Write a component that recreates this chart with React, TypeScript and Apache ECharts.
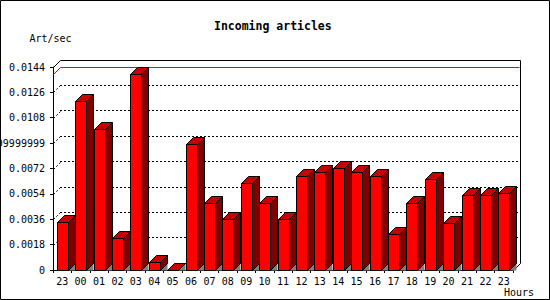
import React, { useEffect, useRef } from "react";
import * as echarts from "echarts";

const hours = ["23","00","01","02","03","04","05","06","07","08","09","10","11","12","13","14","15","16","17","18","19","20","21","22","23"];
const artPerSec = [0.00338,0.0120,0.00998,0.00225,0.01388,0.00057,0,0.00892,0.00473,0.0036,0.00615,0.00473,0.0036,0.00665,0.00693,0.00721,0.00693,0.00665,0.00255,0.00473,0.00646,0.00331,0.0053,0.0053,0.00544];
const yTickValues = [0,0.0018,0.0036,0.0054,0.0072,0.009,0.0108,0.0126,0.0144];
const yTickLabels = ["0","0.0018","0.0036","0.0054","0.0072","0.00899999999","0.0108","0.0126","0.0144"];
const yStep = 0.0018;
const yMax = 0.0144;

const FONT = "DejaVu Sans Mono";
const D = 7;

export default function App() {
  const ref = useRef<HTMLDivElement>(null);
  useEffect(() => {
    if (!ref.current) return;
    const chart = echarts.init(ref.current, null, { renderer: "svg" });
    const r = (v: number) => Math.round(v) + 0.5;
    const maxVal = Math.max(...artPerSec);
    const n = hours.length;

    const GL = 53, GT = 67, GW = 460, GH = 203;

    chart.setOption({
      animation: false,
      backgroundColor: "#fff",
      title: {
        text: "Incoming articles",
        left: 214,
        top: 20,
        padding: 0,
        textStyle: { fontFamily: FONT, fontSize: 11.5, fontWeight: "bold", color: "#000" },
      },
      grid: [
        { left: GL, top: GT, width: GW, height: GH, containLabel: false, outerBoundsMode: "none" },
        { left: GL + D, top: GT - D, width: GW, height: GH, containLabel: false, outerBoundsMode: "none" },
      ],
      xAxis: [
        {
          type: "category",
          gridIndex: 0,
          data: hours,
          boundaryGap: true,
          axisLine: { show: true, lineStyle: { color: "#000", width: 1 } },
          axisTick: { show: true, alignWithLabel: false, length: 3, inside: false, lineStyle: { color: "#000" }, interval: 0 },
          axisLabel: { interval: 0, margin: 6, fontFamily: FONT, fontSize: 10, color: "#000", hideOverlap: false },
          splitLine: { show: false },
        },
        { type: "category", gridIndex: 1, data: hours, show: false },
      ],
      yAxis: [
        {
          type: "value",
          gridIndex: 0,
          min: 0,
          max: yMax,
          interval: yStep,
          axisLine: { show: true, lineStyle: { color: "#000", width: 1 } },
          axisTick: { show: true, length: 3, inside: false, lineStyle: { color: "#000" } },
          axisLabel: {
            margin: 8,
            fontFamily: FONT,
            fontSize: 10,
            color: "#000",
            hideOverlap: false,
            formatter: (v: number) => yTickLabels[Math.round(v / yStep)] ?? String(v),
          },
          splitLine: { show: false },
        },
        {
          type: "value",
          gridIndex: 1,
          min: 0,
          max: yMax,
          interval: yStep,
          axisLine: { show: false },
          axisTick: { show: false },
          axisLabel: { show: false },
          splitLine: {
            show: true,
            showMinLine: false,
            showMaxLine: false,
            lineStyle: { color: "#000", width: 1, type: [2, 2] },
          },
        },
      ],
      graphic: [
        { type: "rect", shape: { x: 0.5, y: 0.5, width: 549, height: 299 }, style: { fill: "none", stroke: "#000", lineWidth: 1 }, z: 100 },
        { type: "line", shape: { x1: GL + 0.5, y1: GT + 0.5, x2: GL + D + 0.5, y2: GT - D + 0.5 }, style: { stroke: "#000", lineWidth: 1 } },
        { type: "line", shape: { x1: GL + D + 0.5, y1: GT - D + 0.5, x2: GL + GW + D + 0.5, y2: GT - D + 0.5 }, style: { stroke: "#000", lineWidth: 1 } },
        { type: "line", shape: { x1: GL + GW + D + 0.5, y1: GT - D + 0.5, x2: GL + GW + D + 0.5, y2: GT + GH - D + 0.5 }, style: { stroke: "#000", lineWidth: 1 } },
        { type: "line", shape: { x1: GL + GW + D + 0.5, y1: GT + GH - D + 0.5, x2: GL + GW + 0.5, y2: GT + GH + 0.5 }, style: { stroke: "#000", lineWidth: 1 } },
        { type: "text", x: 50.5, y: 38, style: { text: "Art/sec", fontFamily: FONT, fontSize: 10, fill: "#000", align: "center", verticalAlign: "middle" } },
        { type: "text", x: 519, y: 292, style: { text: "Hours", fontFamily: FONT, fontSize: 10, fill: "#000", align: "center", verticalAlign: "middle" } },
      ],
      series: [
        {
          type: "custom",
          name: "wall",
          xAxisIndex: 0,
          yAxisIndex: 0,
          data: yTickValues.slice(1, -1).map((v) => [0, v]),
          silent: true,
          z: 1,
          renderItem: (params: any, api: any) => {
            const p = api.coord([0, api.value(1)]);
            const bw = api.size([1, 0])[0];
            const x = p[0] - bw / 2;
            return {
              type: "line",
              shape: { x1: r(x), y1: r(p[1]), x2: r(x + D), y2: r(p[1] - D) },
              style: { stroke: "#000", lineWidth: 1, lineDash: [2, 2] },
            };
          },
        },
        {
          type: "custom",
          name: "max",
          xAxisIndex: 0,
          yAxisIndex: 0,
          data: [[0, maxVal]],
          silent: true,
          z: 1,
          renderItem: (params: any, api: any) => {
            const p = api.coord([0, api.value(1)]);
            const bw = api.size([1, 0])[0];
            const xL = p[0] - bw / 2;
            const xR = xL + n * bw;
            return {
              type: "group",
              children: [
                { type: "line", shape: { x1: r(xL), y1: r(p[1]), x2: r(xL + D), y2: r(p[1] - D) }, style: { stroke: "#ff0000", lineWidth: 1 } },
                { type: "line", shape: { x1: r(xL + D), y1: r(p[1] - D), x2: r(xR + D - 1), y2: r(p[1] - D) }, style: { stroke: "#ff0000", lineWidth: 1 } },
              ],
            };
          },
        },
        {
          type: "custom",
          name: "Art/sec",
          xAxisIndex: 0,
          yAxisIndex: 0,
          data: artPerSec.map((v, i) => [i, v]),
          z: 3,
          renderItem: (params: any, api: any) => {
            const i = api.value(0);
            const v = api.value(1);
            const pTop = api.coord([i, v]);
            const pBot = api.coord([i, 0]);
            const bw = api.size([1, 0])[0];
            const fw = Math.round(bw * 0.6);
            const x0 = r(pTop[0] - fw / 2);
            const x1 = x0 + fw;
            const y1 = r(pTop[1]);
            const y0 = r(pBot[1]);
            return {
              type: "group",
              children: [
                {
                  type: "polygon",
                  shape: { points: [[x1, y0], [x1 + D, y0 - D], [x1 + D, y0]] },
                  style: { fill: "#808080", stroke: "none" },
                },
                {
                  type: "polygon",
                  shape: { points: [[x1, y1], [x1 + D, y1 - D], [x1 + D, y0 - D], [x1, y0]] },
                  style: { fill: "#800000", stroke: "#000", lineWidth: 1 },
                },
                {
                  type: "polygon",
                  shape: { points: [[x0, y1], [x0 + D, y1 - D], [x1 + D, y1 - D], [x1, y1]] },
                  style: { fill: "#c80000", stroke: "#000", lineWidth: 1 },
                },
                {
                  type: "rect",
                  shape: { x: x0, y: y1, width: fw, height: y0 - y1 },
                  style: { fill: "#ff0000", stroke: "#000", lineWidth: 1 },
                },
              ],
            };
          },
        },
      ],
    });
    return () => chart.dispose();
  }, []);
  return (
    <div
      ref={ref}
      style={{ position: "fixed", left: 0, top: 0, width: 550, height: 300, background: "#fff" }}
    />
  );
}
